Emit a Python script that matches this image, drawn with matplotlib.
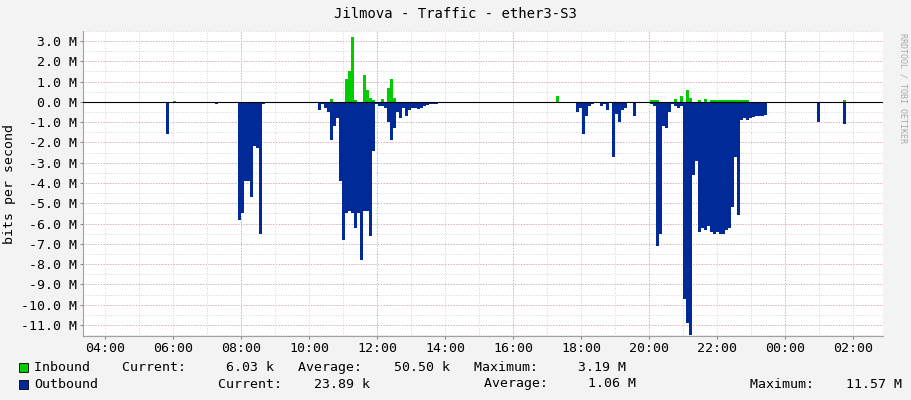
import matplotlib
matplotlib.use("Agg")
import matplotlib.pyplot as plt
import numpy as np
from matplotlib.ticker import FixedLocator

STEP = 0.0882  # hours per sample
# blocks: (start hour, outbound values in M)
out_blocks = [
    (4.09, [0.05]),
    (5.79, [1.6]),
    (7.24, [0.1]),
    (7.91, [5.8, 5.5, 3.9, 3.9, 4.7, 2.2, 2.3, 6.5, 0.1]),
    (10.26, [0.4, 0.1, 0.3, 0.5, 1.9, 1.2, 0.8, 3.9, 6.8, 5.5, 5.4, 5.5, 6.2, 5.5,
             7.8, 5.4, 5.4, 6.6, 2.4, 0.1, 0.2, 0.2, 0.3, 1.0, 1.9, 1.3, 0.5, 0.8,
             0.3, 0.7, 0.4, 0.3, 0.3, 0.35, 0.3, 0.2, 0.15, 0.1, 0.1, 0.1, 0.05]),
    (15.12, [0.05]),
    (17.85, [0.5, 0.3, 1.6, 0.7, 0.2, 0.1, 0, 0, 0.2, 0.1, 0.4, 0, 2.7, 0.6, 1.0,
             0.4, 0.3, 0, 0, 0.7]),
    (20.03, [0.1, 0.2, 7.1, 6.5, 1.2, 1.3, 0.5, 0.1, 0.2, 0.3, 0.2, 9.7, 10.9,
             11.5, 3.6, 2.9, 6.4, 6.2, 6.3, 6.1, 6.4, 6.5, 6.4, 6.5, 6.5, 6.3,
             6.2, 5.2, 2.7, 5.6, 0.9, 0.8, 0.9, 0.8, 0.75, 0.7, 0.7, 0.7, 0.65]),
    (24.94, [1.0]),
    (25.70, [1.1]),
    (26.50, [0.05]),
]
in_blocks = [
    (6.0, [0.05]),
    (10.62, [0.15]),
    (11.06, [1.1, 1.5, 3.2, 0.1, 0, 0, 1.3, 0.6, 0.2, 0.1]),
    (11.85, [0.1, 0, 0, 0.15, 0, 0.7, 1.1, 0.2]),
    (17.26, [0.3]),
    (20.03, [0.1, 0.1, 0.1]),
    (20.74, [0.15, 0, 0.3, 0, 0.6, 0.2, 0, 0, 0.1, 0, 0.15, 0, 0.1, 0.1, 0.1,
             0.1, 0.1, 0.1, 0.1, 0.1, 0.1, 0.1, 0.1, 0.1, 0.1]),
    (25.70, [0.1]),
]
tick_labels = ["04:00", "06:00", "08:00", "10:00", "12:00", "14:00", "16:00",
               "18:00", "20:00", "22:00", "00:00", "02:00"]
tick_hours = [4, 6, 8, 10, 12, 14, 16, 18, 20, 22, 24, 26]

mono = "DejaVu Sans Mono"
fig = plt.figure(figsize=(9.11, 4.0), dpi=100, facecolor="#F3F3F3")
ax = fig.add_axes([83/911, 1-336/400, 800/911, 305/400])
ax.set_facecolor("white")
xmin, xmax = 3.35, 3.35 + 800/34
ax.set_xlim(xmin, xmax)
ax.set_ylim(-11.54, 3.49)

for start, vals in out_blocks:
    x = start + STEP*np.arange(len(vals))
    ax.bar(x, -np.array(vals), width=STEP, align="edge", color="#002A97", linewidth=0, zorder=3)
for start, vals in in_blocks:
    x = start + STEP*np.arange(len(vals))
    ax.bar(x, vals, width=STEP, align="edge", color="#00CC00", linewidth=0, zorder=3)

# grids
for h in np.arange(4, 28, 1):
    ax.axvline(h, color="#C8C8C8", lw=0.6, ls=(0, (1, 2)), zorder=1)
for y in np.arange(-11.5, 3.6, 0.5):
    ax.axhline(y, color="#C8C8C8", lw=0.6, ls=(0, (1, 2)), zorder=1)
for h in [8, 12, 16, 20, 24]:
    ax.axvline(h, color="#F0A0A0", lw=0.7, ls=(0, (1, 2)), zorder=2)
for y in range(-11, 4):
    ax.axhline(y, color="#F0A0A0", lw=0.7, ls=(0, (1, 2)), zorder=2)
ax.axhline(0, color="black", lw=0.8, zorder=4)

ax.xaxis.set_major_locator(FixedLocator(tick_hours))
ax.set_xticklabels(tick_labels, fontfamily=mono, fontsize=9.5)
yt = list(range(-11, 4))
ax.set_yticks(yt)
ax.set_yticklabels([f"{v:.1f} M" for v in yt], fontfamily=mono, fontsize=9.5)
ax.tick_params(length=2, color="#888888", pad=2)
for s in ["top", "right"]:
    ax.spines[s].set_visible(False)
ax.spines["left"].set_color("#A0A0A0")
ax.spines["bottom"].set_color("#A0A0A0")
ax.set_ylabel("bits per second", fontfamily=mono, fontsize=9.5)

fig.text(0.5, 1-14/400, "Jilmova - Traffic - ether3-S3", ha="center", va="center",
         fontfamily=mono, fontsize=10)
fig.text(903/911, 0.78, "RRDTOOL / TOBI OETIKER", rotation=270, ha="center", va="center",
         fontfamily=mono, fontsize=6, color="#AAAAAA")

fig.patches.append(plt.Rectangle((19/911, 1-372/400), 9/911, 9/400, transform=fig.transFigure,
                                 facecolor="#00CC00", edgecolor="black", lw=0.6))
fig.patches.append(plt.Rectangle((19/911, 1-389/400), 9/911, 9/400, transform=fig.transFigure,
                                 facecolor="#002A97", edgecolor="black", lw=0.6))
fig.text(34/911, 1-367/400, "Inbound    Current:     6.03 k   Average:    50.50 k   Maximum:     3.19 M",
         fontfamily=mono, fontsize=9.5, va="center")
fig.text(34/911, 1-384/400, "Outbound", fontfamily=mono, fontsize=9.5, va="center")
fig.text(218/911, 1-384/400, "Current:    23.89 k", fontfamily=mono, fontsize=9.5, va="center")
fig.text(484/911, 1-384/400, "Average:     1.06 M", fontfamily=mono, fontsize=9.5, va="center")
fig.text(750/911, 1-384/400, "Maximum:    11.57 M", fontfamily=mono, fontsize=9.5, va="center")

fig.savefig("out.png", dpi=100, facecolor=fig.get_facecolor())
